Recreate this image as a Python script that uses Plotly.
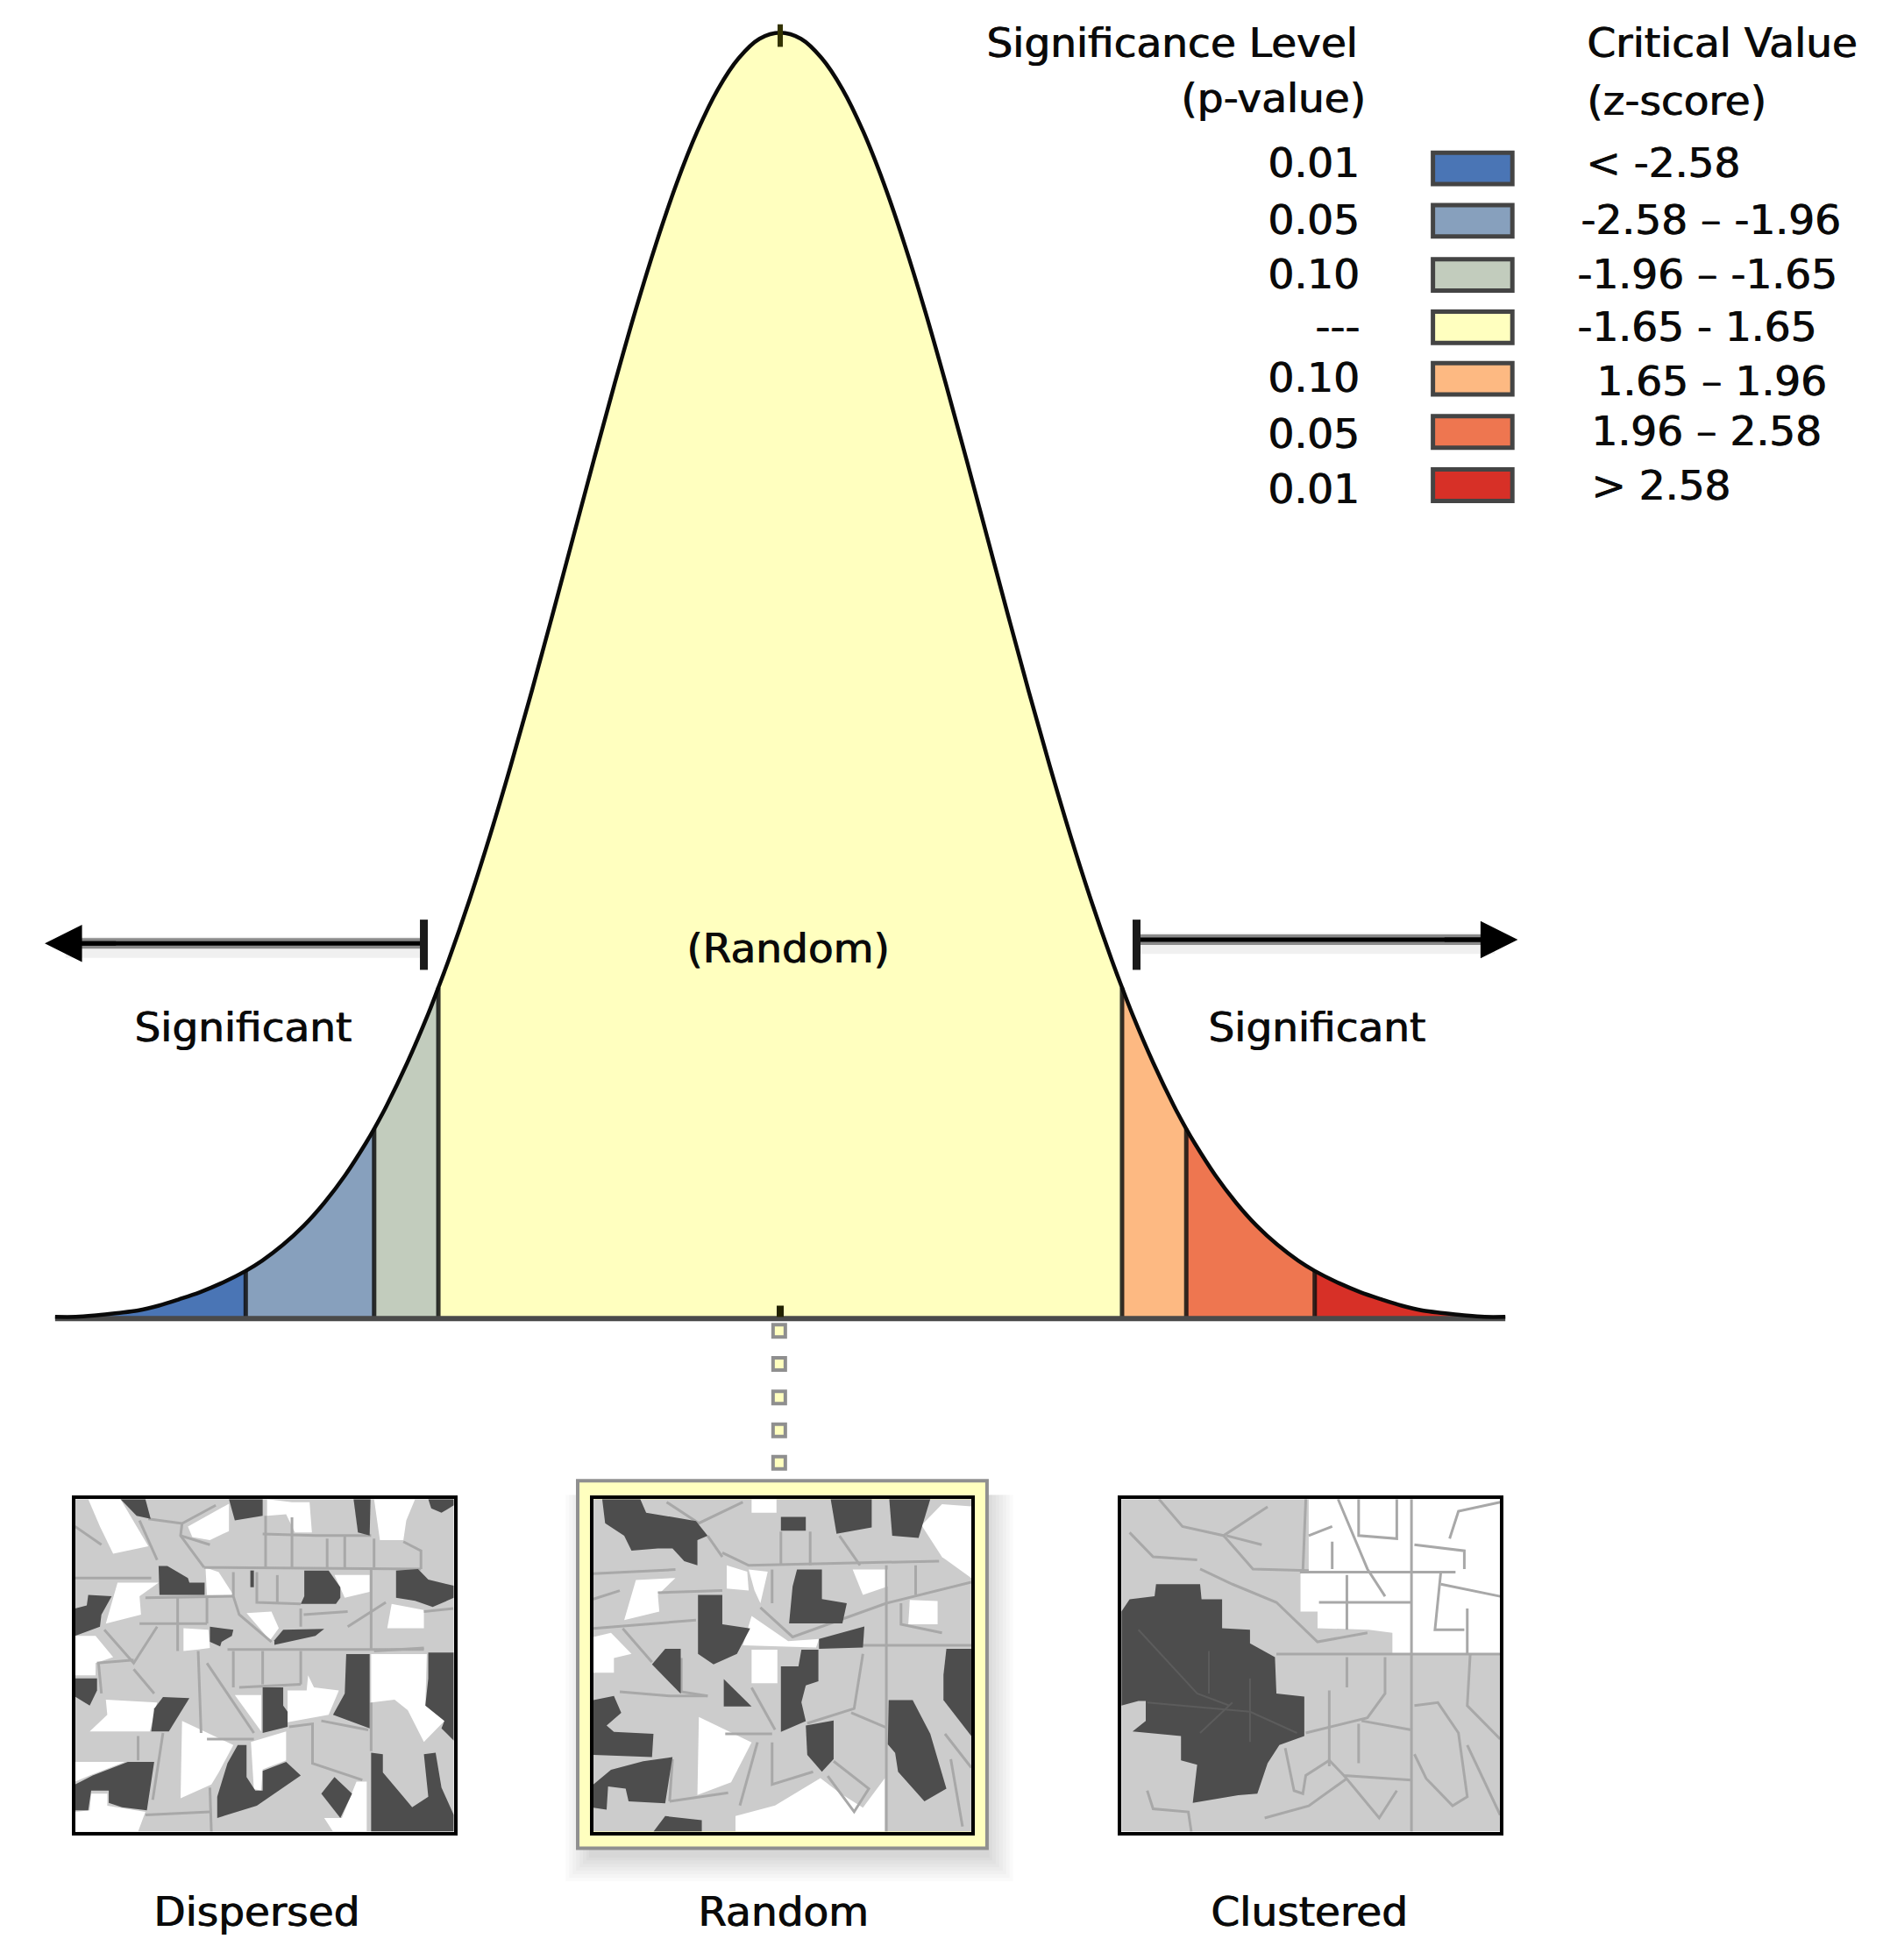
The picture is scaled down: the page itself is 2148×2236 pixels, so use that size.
import plotly.graph_objects as go

# Bell curve
z_vals = [-3.5, -3.4, -3.3, -3.2, -3.1, -3.0, -2.9, -2.8, -2.7, -2.58, -2.5, -2.4, -2.3, -2.2, -2.1, -2.0, -1.96,
          -1.9, -1.8, -1.7, -1.65, -1.6, -1.5, -1.4, -1.3, -1.2, -1.1, -1.0, -0.9, -0.8, -0.7, -0.6, -0.5, -0.4,
          -0.3, -0.2, -0.1, 0.0, 0.1, 0.2, 0.3, 0.4, 0.5, 0.6, 0.7, 0.8, 0.9, 1.0, 1.1, 1.2, 1.3, 1.4, 1.5, 1.6,
          1.65, 1.7, 1.8, 1.9, 1.96, 2.0, 2.1, 2.2, 2.3, 2.4, 2.5, 2.58, 2.7, 2.8, 2.9, 3.0, 3.1, 3.2, 3.3, 3.4, 3.5]
density = [0.0, 0.0, 0.0005, 0.0012, 0.002, 0.0035, 0.0055, 0.0077, 0.0104, 0.0143, 0.0175, 0.0224, 0.0283, 0.0355,
           0.044, 0.054, 0.0584, 0.0656, 0.079, 0.094, 0.1023, 0.1109, 0.1295, 0.1497, 0.1714, 0.1942, 0.2179, 0.242,
           0.2661, 0.2897, 0.3123, 0.3332, 0.3521, 0.3683, 0.3814, 0.391, 0.397, 0.3989, 0.397, 0.391, 0.3814, 0.3683,
           0.3521, 0.3332, 0.3123, 0.2897, 0.2661, 0.242, 0.2179, 0.1942, 0.1714, 0.1497, 0.1295, 0.1109, 0.1023,
           0.094, 0.079, 0.0656, 0.0584, 0.054, 0.044, 0.0355, 0.0283, 0.0224, 0.0175, 0.0143, 0.0104, 0.0077, 0.0055,
           0.0035, 0.002, 0.0012, 0.0005, 0.0, 0.0]

# Legend
p_values = ['0.01', '0.05', '0.10', '---', '0.10', '0.05', '0.01']
z_ranges = ['< -2.58', '-2.58 – -1.96', '-1.96 – -1.65', '-1.65 - 1.65', '1.65 – 1.96', '1.96 – 2.58', '> 2.58']
z_limits = [-3.5, -2.58, -1.96, -1.65, 1.65, 1.96, 2.58, 3.5]
band_colors = ['#4a75b5', '#87a0bd', '#c2ccbd', '#ffffbf', '#fdb982', '#ee7650', '#d73027']

# Little connector squares under the curve
connector_y = [-0.0043, -0.0146, -0.025, -0.0352, -0.0453]

# Thumbnail maps, polygons as [x, y] in map units
dispersed_dark = [
    [(235, 60), (320, 60), (338, 125), (290, 115)],
    [(605, 60), (720, 60), (720, 115), (625, 130)],
    [(1030, 60), (1088, 60), (1085, 180), (1045, 170)],
    [(1285, 60), (1372, 60), (1372, 80), (1330, 105), (1295, 90)],
    [(365, 280), (395, 280), (465, 320), (470, 335), (522, 335), (522, 375), (368, 375)],
    [(678, 295), (690, 295), (690, 350), (678, 350)],
    [(862, 295), (945, 295), (985, 350), (985, 385), (970, 405), (850, 405), (862, 380)],
    [(1175, 295), (1250, 290), (1285, 325), (1372, 345), (1372, 385), (1300, 415), (1240, 395), (1175, 385)],
    [(80, 420), (120, 410), (125, 375), (205, 380), (170, 440), (165, 480), (80, 510)],
    [(540, 480), (620, 490), (615, 510), (580, 530), (575, 545), (540, 530)],
    [(790, 490), (930, 487), (900, 510), (760, 540), (760, 525)],
    [(1005, 570), (1085, 570), (1085, 815), (960, 770), (1000, 700)],
    [(1285, 565), (1372, 565), (1372, 855), (1330, 815), (1340, 790), (1275, 740), (1285, 650)],
    [(80, 650), (155, 650), (155, 690), (130, 740), (80, 710)],
    [(380, 712), (470, 715), (400, 825), (340, 825), (350, 750)],
    [(720, 680), (790, 680), (790, 740), (805, 760), (805, 810), (720, 830)],
    [(635, 870), (665, 870), (665, 975), (695, 1020), (720, 1020), (720, 955), (800, 925), (850, 970), (700, 1070),
     (565, 1110), (565, 1040), (600, 930)],
    [(80, 1000), (140, 970), (260, 925), (350, 925), (325, 1085), (240, 1075), (195, 1060), (195, 1020), (135, 1020),
     (125, 1085), (80, 1085)],
    [(965, 975), (1025, 1030), (985, 1110), (920, 1030)],
    [(1090, 895), (1130, 900), (1130, 960), (1200, 1040), (1230, 1075), (1285, 1040), (1270, 900), (1310, 895),
     (1330, 1010), (1372, 1100), (1372, 1155), (1090, 1155)],
]
dispersed_white = [
    [(125, 60), (235, 60), (330, 215), (210, 240), (165, 150)],
    [(465, 150), (605, 75), (605, 165), (540, 195), (480, 185)],
    [(735, 60), (820, 70), (880, 70), (888, 170), (830, 170), (800, 110), (735, 115)],
    [(1100, 60), (1240, 60), (1210, 130), (1200, 195), (1120, 195)],
    [(525, 285), (570, 300), (620, 375), (530, 375)],
    [(225, 335), (365, 335), (300, 380), (305, 440), (185, 470)],
    [(965, 310), (1085, 310), (1085, 365), (1000, 385)],
    [(1160, 405), (1270, 425), (1270, 485), (1145, 485)],
    [(665, 435), (750, 430), (775, 485), (745, 525)],
    [(450, 485), (535, 490), (540, 550), (500, 555), (450, 560)],
    [(80, 510), (150, 510), (210, 580), (150, 600), (150, 640), (80, 640)],
    [(1090, 570), (1280, 570), (1275, 740), (1340, 790), (1270, 860), (1215, 755), (1170, 720), (1090, 730)],
    [(805, 690), (870, 690), (875, 640), (895, 680), (980, 690), (945, 770), (805, 795)],
    [(625, 705), (715, 705), (715, 825)],
    [(185, 720), (360, 730), (335, 825), (130, 825), (190, 770)],
    [(445, 790), (620, 870), (570, 960), (545, 1000), (440, 1045)],
    [(680, 860), (800, 825), (800, 920), (720, 950), (715, 1020), (690, 1015)],
    [(80, 925), (250, 925), (130, 970), (80, 990)],
    [(135, 1030), (190, 1030), (190, 1070), (320, 1090), (295, 1155), (80, 1155), (80, 1090), (130, 1085)],
    [(1040, 990), (1075, 990), (1075, 1155), (960, 1155), (930, 1110), (990, 1110)],
]
dispersed_lines = [
    [(330, 125), (445, 140), (560, 80)], [(445, 140), (440, 180), (520, 285)], [(440, 180), (540, 210)],
    [(520, 285), (1260, 290)], [(730, 115), (730, 285)], [(820, 120), (820, 285)], [(1000, 180), (1000, 285)],
    [(1100, 190), (1100, 285)], [(720, 175), (900, 180), (1090, 180)], [(80, 320), (340, 320)],
    [(300, 130), (360, 260)], [(80, 150), (170, 210)], [(320, 385), (620, 380)], [(430, 385), (430, 560)],
    [(300, 470), (530, 470)], [(620, 300), (620, 380), (640, 440), (750, 530)], [(180, 490), (280, 600), (360, 480)],
    [(280, 620), (350, 700)], [(155, 600), (280, 590)], [(600, 555), (1270, 555)], [(620, 560), (620, 680)],
    [(720, 560), (720, 670)], [(850, 560), (850, 670)], [(530, 380), (530, 470)], [(1010, 480), (1140, 400)],
    [(850, 420), (850, 480)], [(1090, 290), (1090, 555)], [(500, 560), (510, 830)], [(530, 600), (690, 830)],
    [(530, 850), (690, 850)], [(810, 810), (890, 800), (890, 930), (1060, 985)], [(920, 790), (1080, 820)],
    [(1090, 730), (1090, 890)], [(380, 830), (345, 1050)], [(320, 1100), (540, 1090)], [(540, 1010), (545, 1155)],
    [(160, 600), (170, 700)], [(295, 840), (295, 920)], [(940, 190), (940, 285)], [(1270, 430), (1370, 420)],
    [(700, 300), (700, 400), (850, 405)], [(770, 310), (770, 400)], [(640, 680), (850, 670)],
    [(1200, 200), (1260, 230), (1260, 290)], [(860, 440), (1010, 430)], [(1100, 560), (1270, 550)],
]

random_dark = [
    [(110, 483), (240, 483), (260, 515), (430, 535), (470, 570), (435, 580), (435, 640), (390, 630), (350, 600),
     (300, 600), (210, 605), (185, 570), (120, 540)],
    [(720, 525), (805, 525), (805, 558), (720, 558)],
    [(890, 483), (1030, 483), (1030, 550), (910, 565)],
    [(1090, 483), (1230, 483), (1190, 575), (1100, 570)],
    [(775, 650), (860, 650), (860, 720), (945, 730), (930, 778), (748, 778), (760, 690)],
    [(437, 710), (520, 710), (520, 780), (615, 790), (570, 850), (490, 875), (437, 850)],
    [(850, 815), (1005, 785), (1000, 835), (850, 838)],
    [(280, 875), (325, 838), (378, 838), (378, 945)],
    [(525, 910), (620, 975), (525, 975)],
    [(790, 840), (848, 840), (848, 915), (805, 925), (790, 965), (805, 1010), (720, 1035), (720, 880), (780, 880)],
    [(1285, 838), (1370, 838), (1370, 1045), (1275, 960), (1275, 900)],
    [(80, 960), (150, 950), (175, 990), (125, 1020), (150, 1035), (285, 1040), (280, 1095), (80, 1090)],
    [(805, 1020), (900, 1008), (900, 1100), (860, 1130), (810, 1090)],
    [(1088, 960), (1170, 960), (1230, 1040), (1285, 1170), (1210, 1200), (1120, 1130), (1110, 1085), (1085, 1065)],
    [(80, 1160), (140, 1125), (250, 1105), (350, 1095), (325, 1205), (200, 1200), (190, 1170), (130, 1165),
     (125, 1220), (80, 1215)],
    [(285, 1272), (325, 1235), (450, 1245), (450, 1272)],
]
random_white = [
    [(620, 483), (705, 483), (705, 515), (620, 515)],
    [(1200, 545), (1270, 495), (1370, 500), (1370, 670), (1270, 620)],
    [(535, 640), (605, 655), (610, 700), (535, 695)],
    [(610, 650), (675, 655), (650, 730), (630, 700)],
    [(225, 675), (360, 670), (300, 710), (305, 750), (185, 770)],
    [(965, 650), (1085, 650), (1085, 690), (1000, 710)],
    [(1160, 722), (1255, 725), (1255, 780), (1155, 780)],
    [(80, 810), (140, 800), (210, 850), (150, 860), (150, 895), (80, 895)],
    [(620, 760), (745, 820), (850, 815), (840, 835), (590, 830)],
    [(620, 840), (708, 840), (708, 920), (620, 920)],
    [(440, 1000), (620, 1060), (550, 1155), (435, 1185)],
    [(565, 1235), (700, 1210), (855, 1145), (920, 1180), (1000, 1215), (1075, 1145), (1075, 1272), (565, 1272)],
]
random_lines = [
    [(1080, 640), (1080, 1272)], [(850, 830), (1370, 830)], [(330, 490), (440, 540), (590, 490)],
    [(520, 610), (610, 640), (1260, 630)], [(720, 560), (720, 640)], [(820, 560), (820, 640)],
    [(80, 660), (360, 650)], [(300, 705), (520, 700)], [(80, 790), (430, 770)], [(180, 790), (280, 870)],
    [(650, 740), (760, 810), (1080, 730), (1370, 680)], [(380, 860), (380, 940), (470, 950)],
    [(170, 940), (340, 950), (470, 950)], [(530, 1040), (690, 1040)], [(620, 930), (700, 1030)],
    [(960, 990), (1080, 1025)], [(1000, 850), (970, 980), (810, 1015)], [(350, 1100), (340, 1200)],
    [(340, 1200), (540, 1180)], [(640, 1060), (580, 1210)], [(690, 1060), (690, 1160), (830, 1130)],
    [(900, 1105), (1020, 1170), (970, 1225), (880, 1140)], [(1280, 1040), (1370, 1120)], [(1300, 1100), (1340, 1260)],
    [(920, 570), (990, 640)], [(1180, 640), (1180, 710)], [(1130, 730), (1130, 780), (1270, 800)],
    [(690, 650), (690, 730)], [(80, 720), (170, 700)], [(470, 570), (520, 620)],
]

clustered_dark = [
    [(62, 430), (90, 390), (175, 380), (180, 340), (330, 340), (335, 390), (405, 390), (405, 485), (500, 490),
     (500, 535), (585, 580), (590, 700), (685, 710), (685, 840), (600, 870), (560, 930), (525, 1030), (460, 1035),
     (305, 1060), (320, 935), (265, 920), (265, 840), (100, 825), (145, 790), (145, 725), (120, 725), (62, 740)],
]
clustered_white = [
    [(700, 60), (1352, 60), (1352, 570), (985, 570), (985, 500), (905, 490), (730, 485), (730, 430), (672, 430),
     (672, 305), (700, 295)],
]
clustered_lines = [
    [(190, 60), (270, 150), (410, 180), (560, 85)], [(410, 180), (510, 290), (700, 295)], [(420, 180), (540, 210)],
    [(90, 170), (170, 250), (320, 260)], [(330, 290), (440, 340), (590, 400), (730, 530), (900, 500)],
    [(590, 570), (1352, 570)], [(830, 580), (830, 680)], [(960, 580), (960, 700), (900, 780), (690, 830)],
    [(1050, 60), (1050, 1155)], [(770, 690), (770, 940)], [(870, 800), (870, 930)], [(880, 790), (1050, 820)],
    [(620, 880), (650, 1020), (680, 1030), (690, 970), (770, 920), (820, 970), (1050, 985)],
    [(830, 980), (700, 1070), (550, 1110)], [(820, 970), (940, 1110), (1000, 1020)], [(1060, 740), (1140, 730),
     (1210, 830), (1240, 1040), (1190, 1070), (1100, 980), (1060, 900)], [(1250, 570), (1240, 740), (1352, 850)],
    [(1240, 870), (1352, 1100)], [(150, 1020), (170, 1080), (290, 1090), (300, 1155)], [(680, 300), (690, 60)],
    [(800, 60), (900, 290), (960, 380)], [(735, 400), (1050, 400)], [(1150, 300), (1130, 490), (1230, 490)],
    [(1240, 420), (1240, 570)], [(1060, 210), (1230, 230), (1230, 290)], [(1180, 190), (1210, 100), (1352, 70)],
    [(670, 300), (1200, 300)], [(830, 310), (830, 490)], [(1150, 340), (1352, 380)], [(700, 180), (780, 150)],
    [(870, 60), (870, 180), (1000, 190), (1000, 60)], [(780, 200), (780, 290)],
]
clustered_dark_lines = [
    [(120, 490), (320, 700), (430, 740)], [(150, 730), (500, 760)], [(330, 830), (440, 730)],
    [(500, 650), (500, 860)], [(360, 560), (360, 700)], [(500, 760), (660, 830)],
]

# Text beside the thumbnails
map_names = ['Dispersed', 'Random', 'Clustered']

# the picture's layout runs a little tighter than my first reading of it
SCALE = 0.9955


# figure pixels to paper coordinates
def px(x):
    return x * SCALE / 2148


def py(y):
    return 1 - y * SCALE / 2236


def xs(poly):
    return [p[0] for p in poly] + [poly[0][0]]


def ys(poly):
    return [p[1] for p in poly] + [poly[0][1]]


fig = go.Figure()

# filled bands of the curve
for i in range(7):
    band = [(z, d) for z, d in zip(z_vals, density) if z_limits[i] <= z <= z_limits[i + 1]]
    fig.add_trace(go.Scatter(x=[z_limits[i]] + [b[0] for b in band] + [z_limits[i + 1]],
                             y=[0] + [b[1] for b in band] + [0],
                             mode='none', fill='toself', fillcolor=band_colors[i], hoverinfo='skip'))

# band dividers
for z in z_limits[1:-1]:
    fig.add_trace(go.Scatter(x=[z, z], y=[0, density[z_vals.index(z)]], mode='lines',
                             line=dict(color='rgba(15,15,15,0.85)', width=5), hoverinfo='skip'))

fig.add_trace(go.Scatter(x=[z_vals[0], z_vals[-1]], y=[-0.0005, -0.0005], mode='lines',
                         line=dict(color='#4a4a4a', width=6), hoverinfo='skip'))
fig.add_trace(go.Scatter(x=z_vals, y=density, mode='lines', line=dict(color='#0a0a0a', width=4.5, shape='spline'),
                         hoverinfo='skip'))

# ticks at the centre, top and bottom
fig.add_trace(go.Scatter(x=[0, 0], y=[0.3945, 0.4015], mode='lines', line=dict(color='#333300', width=6), hoverinfo='skip'))
fig.add_trace(go.Scatter(x=[0, 0], y=[0, 0.0035], mode='lines', line=dict(color='#222200', width=8), hoverinfo='skip'))

# dotted connector to the selected map
fig.add_trace(go.Scatter(x=[-0.005] * len(connector_y), y=connector_y, mode='markers',
                         marker=dict(symbol='square', size=14, color='#ffffbf', line=dict(color='#8f8f8f', width=4)),
                         hoverinfo='skip'))

# the two "significant" arrows with their soft shadow
arrow_sets = [([-3.45, -1.72], 0.116, -1.72, [0.1078, 0.1234]), ([1.72, 3.45], 0.1172, 1.72, [0.1078, 0.1234])]
for ax_x, ax_y, bar_x, bar_y in arrow_sets:
    fig.add_trace(go.Scatter(x=ax_x, y=[ax_y - 0.0012, ax_y - 0.0012], mode='lines',
                             line=dict(color='rgba(0,0,0,0.06)', width=24), hoverinfo='skip'))
    fig.add_trace(go.Scatter(x=ax_x, y=[ax_y, ax_y], mode='lines', line=dict(color='#8a8a8a', width=12), hoverinfo='skip'))
    fig.add_trace(go.Scatter(x=ax_x, y=[ax_y, ax_y], mode='lines', line=dict(color='#000000', width=5), hoverinfo='skip'))
    fig.add_trace(go.Scatter(x=[bar_x, bar_x], y=bar_y, mode='lines', line=dict(color='#1a1a1a', width=9), hoverinfo='skip'))

# maps, each on its own hidden axes
map_specs = [
    ('x2', 'y2', dispersed_dark, dispersed_white, dispersed_lines, [80, 1372], [1155, 60]),
    ('x3', 'y3', random_dark, random_white, random_lines, [80, 1370], [1272, 483]),
    ('x4', 'y4', clustered_dark, clustered_white, clustered_lines, [62, 1352], [1155, 60]),
]
for xa, ya, dark, white, lines, xr, yr in map_specs:
    frame = [(xr[0], yr[0]), (xr[1], yr[0]), (xr[1], yr[1]), (xr[0], yr[1])]
    fig.add_trace(go.Scatter(x=xs(frame), y=ys(frame), xaxis=xa, yaxis=ya, mode='none', fill='toself',
                             fillcolor='#cccccc', hoverinfo='skip'))
    for poly in white:
        fig.add_trace(go.Scatter(x=xs(poly), y=ys(poly), xaxis=xa, yaxis=ya, mode='none', fill='toself',
                                 fillcolor='#ffffff', hoverinfo='skip'))
    for line in lines:
        fig.add_trace(go.Scatter(x=[p[0] for p in line], y=[p[1] for p in line], xaxis=xa, yaxis=ya, mode='lines',
                                 line=dict(color='#a8a8a8', width=3), hoverinfo='skip'))
    for poly in dark:
        fig.add_trace(go.Scatter(x=xs(poly), y=ys(poly), xaxis=xa, yaxis=ya, mode='none', fill='toself',
                                 fillcolor='#4d4d4d', hoverinfo='skip'))
for line in clustered_dark_lines:
    fig.add_trace(go.Scatter(x=[p[0] for p in line], y=[p[1] for p in line], xaxis='x4', yaxis='y4', mode='lines',
                             line=dict(color='#5c5c5c', width=2), hoverinfo='skip'))

annotations = []
font_main = dict(family='DejaVu Sans', size=47, color='#0a0a0a', shadow='1px 0px 0px #0a0a0a')


def label(text, x, y, anchor='left'):
    annotations.append(dict(text=text, x=px(x), y=py(y), xref='paper', yref='paper', xanchor=anchor, yanchor='middle',
                            showarrow=False, font=font_main))


label('Significance Level', 1557, 49, 'right')
label('(p-value)', 1567, 112, 'right')
label('Critical Value', 1816, 49)
label('(z-score)', 1816, 115)

legend_y = [193, 253, 315, 375, 434, 495, 556]
text_y = [186, 252, 314, 374, 432, 497, 560]
zrange_y = [186, 252, 314, 374, 436, 494, 556]
zrange_x = [1815, 1809, 1805, 1805, 1827, 1821, 1821]
for i in range(7):
    label(p_values[i], 1560, text_y[i], 'right')
    label(z_ranges[i], zrange_x[i], zrange_y[i])

label('Significant', 278, 1177, 'center')
label('Significant', 1509, 1177, 'center')
label('(Random)', 903, 1086, 'center')
label(map_names[0], 294, 2190, 'center')
label(map_names[1], 898, 2190, 'center')
label(map_names[2], 1500, 2190, 'center')

# arrowheads
annotations.append(dict(x=-3.55, y=0.116, ax=-3.2, ay=0.116, xref='x', yref='y', axref='x', ayref='y', text='',
                        showarrow=True, arrowhead=2, arrowsize=1.7, arrowwidth=5, arrowcolor='#000000'))
annotations.append(dict(x=3.56, y=0.1172, ax=3.2, ay=0.1172, xref='x', yref='y', axref='x', ayref='y', text='',
                        showarrow=True, arrowhead=2, arrowsize=1.7, arrowwidth=5, arrowcolor='#000000'))

shapes = []
# legend swatches
for i in range(7):
    shapes.append(dict(type='rect', xref='paper', yref='paper', x0=px(1642), x1=px(1733),
                       y0=py(legend_y[i] + 18), y1=py(legend_y[i] - 18), fillcolor=band_colors[i],
                       line=dict(color='#444444', width=5)))

# soft shadow and yellow surround of the selected map
for grow in [30, 26, 22, 18, 14, 10, 6, 3]:
    shapes.append(dict(type='rect', xref='paper', yref='paper', layer='below', x0=px(662 - grow + 16), x1=px(1131 + grow),
                       y0=py(2118 + grow + 8), y1=py(1697 + 16), fillcolor='rgba(0,0,0,0.018)', line_width=0))
shapes.append(dict(type='rect', xref='paper', yref='paper', layer='below', x0=px(662), x1=px(1131), y0=py(2118),
                   y1=py(1697), fillcolor='#ffffbf', line=dict(color='#909090', width=4)))

fig.update_layout(
    width=2148, height=2236, margin=dict(l=0, r=0, t=0, b=0), showlegend=False,
    paper_bgcolor='white', plot_bgcolor='rgba(0,0,0,0)',
    annotations=annotations, shapes=shapes,
    xaxis=dict(domain=[0, 1], range=[-3.766, 5.323], visible=False, fixedrange=True),
    yaxis=dict(domain=[0, 1], range=[-0.19975, 0.40905], visible=False, fixedrange=True),
)

# map axes, framed in black
map_boxes = [(86, 520, 1718, 2099), (680, 1113, 1718, 2099), (1285, 1719, 1718, 2099)]
for n, (spec, box) in enumerate(zip(map_specs, map_boxes), start=2):
    axis_style = dict(showgrid=False, zeroline=False, showticklabels=False, ticks='', showline=True, mirror=True,
                      linecolor='#000000', linewidth=4, fixedrange=True)
    fig.update_layout({
        'xaxis%d' % n: dict(domain=[px(box[0]), px(box[1])], range=spec[5], anchor='y%d' % n, **axis_style),
        'yaxis%d' % n: dict(domain=[py(box[3]), py(box[2])], range=spec[6], anchor='x%d' % n, **axis_style),
    })

fig.write_html("out.html", config=dict(displayModeBar=False), post_script="document.body.style.margin='0';")
